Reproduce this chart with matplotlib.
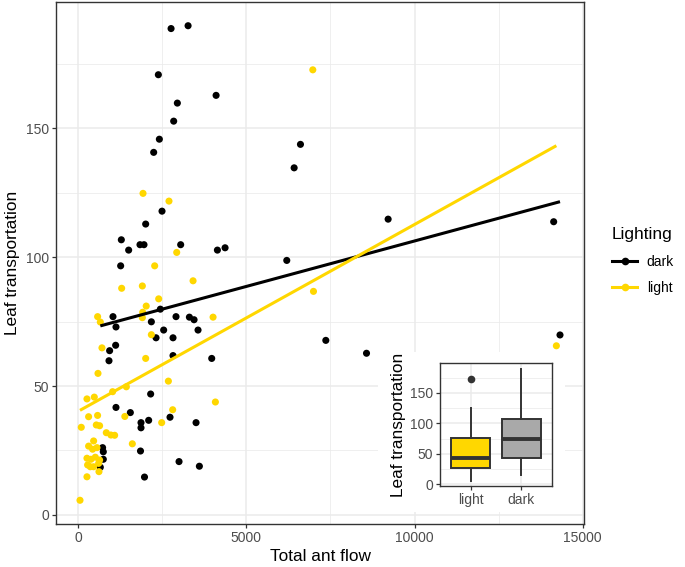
import numpy as np
import matplotlib
matplotlib.use("Agg")
import matplotlib.pyplot as plt
from matplotlib.lines import Line2D
from matplotlib.patches import Rectangle

plt.rcParams['font.family'] = ['Liberation Sans', 'DejaVu Sans']

# ---------------- data ----------------
dark_flow = [2759, 3265, 2381, 4098, 2946, 2837, 2411, 2242, 6607, 6419,
             2490, 2004, 1280, 1498, 1835, 1954, 3045, 4137, 4365, 1260,
             6200, 9214, 14137, 2440, 1032, 1121, 2173, 2906, 3304, 3443,
             3561, 2539, 2312, 2817, 1111, 932, 913, 2817, 3968, 7361,
             8571, 14325, 2152, 1121, 1548, 2728, 1865, 1865, 2093, 3502,
             723, 744, 1850, 744, 655, 2996, 3601, 1969]
dark_leaf = [188.6, 189.7, 170.7, 162.7, 159.7, 152.7, 145.7, 140.6, 143.7, 134.6,
             117.8, 112.8, 106.7, 102.7, 104.8, 104.8, 104.8, 102.7, 103.6, 96.6,
             98.7, 114.7, 113.7, 79.8, 76.9, 72.9, 74.9, 76.9, 76.7, 75.7,
             71.7, 71.7, 68.7, 68.7, 65.8, 63.7, 59.8, 61.8, 60.7, 67.7,
             62.7, 69.8, 46.9, 41.7, 39.7, 37.9, 35.8, 33.8, 36.7, 35.8,
             26.1, 24.5, 24.8, 21.6, 18.5, 20.7, 18.9, 14.7]

light_flow = [6974, 1925, 2697, 2927, 2272, 3413, 1290, 1905, 2391, 2020,
              1915, 1905, 6994, 4008, 575, 655, 2173, 704, 2004, 586,
              2679, 1021, 1429, 258, 476, 4077, 2807, 1384, 307, 574,
              2480, 89, 536, 634, 833, 970, 1081, 1607, 456, 307,
              556, 426, 258, 378, 506, 634, 605, 277, 357, 456,
              258, 51, 14217, 615]
light_leaf = [172.6, 124.7, 121.7, 101.8, 96.6, 90.8, 87.9, 88.8, 83.8, 81.0,
              78.6, 76.5, 86.7, 76.7, 76.9, 74.8, 69.9, 64.8, 60.7, 54.9,
              51.9, 47.8, 49.7, 45.0, 45.7, 43.8, 40.8, 38.2, 38.1, 38.6,
              35.8, 34.0, 34.9, 34.6, 31.9, 31.0, 30.9, 27.6, 28.7, 26.7,
              26.1, 25.5, 22.0, 21.6, 22.4, 21.3, 20.0, 19.4, 18.7, 18.7,
              14.8, 5.7, 65.6, 16.8]

groups = ["dark", "light"]
colors = {"dark": "#000000", "light": "#FFD700"}
box_order = ["light", "dark"]
box_fill = {"light": "#FFD700", "dark": "#A9A9A9"}

xticks = [0, 5000, 10000, 15000]
yticks = [0, 50, 100, 150]

data = {"dark": (np.array(dark_flow, float), np.array(dark_leaf, float)),
        "light": (np.array(light_flow, float), np.array(light_leaf, float))}

# ---------------- figure ----------------
W, H = 685, 567
fig = plt.figure(figsize=(W / 100, H / 100), dpi=100)

def fx(px):
    return px / W

def fy(py):
    return 1 - py / H

GRID = "#EBEBEB"
DARKLINE = "#333333"
TICKLAB = "#4D4D4D"

def style_axes(ax, tick_fs):
    for s in ax.spines.values():
        s.set_color(DARKLINE)
        s.set_linewidth(1.0)
    ax.tick_params(axis='both', which='major', length=3, width=0.9, color=DARKLINE,
                   labelcolor=TICKLAB, labelsize=tick_fs, pad=2)
    ax.tick_params(axis='both', which='minor', length=0)
    ax.grid(True, which='major', color=GRID, linewidth=1.1)
    ax.grid(True, which='minor', color=GRID, linewidth=0.55)
    ax.set_axisbelow(True)

# main axes
ax = fig.add_axes([fx(56), fy(524), fx(584) - fx(56), fy(2) - fy(524)])
style_axes(ax, 10)

allx = np.concatenate([data[g][0] for g in groups])
ally = np.concatenate([data[g][1] for g in groups])
rx = allx.max() - allx.min()
ry = ally.max() - ally.min()
ax.set_xlim(allx.min() - 0.05 * rx, allx.max() + 0.05 * rx)
ax.set_ylim(ally.min() - 0.05 * ry, ally.max() + 0.05 * ry)
ax.set_xticks(xticks)
ax.set_xticklabels([str(t) for t in xticks])
ax.set_yticks(yticks)
ax.set_yticklabels([str(t) for t in yticks])
ax.set_xticks([2500, 7500, 12500], minor=True)
ax.set_yticks([25, 75, 125, 175], minor=True)

for g in groups:
    x, y = data[g]
    ax.scatter(x, y, s=26, color=colors[g], edgecolors='none', zorder=3)
for g in groups:
    x, y = data[g]
    b, a = np.polyfit(x, y, 1)
    xs = np.array([x.min(), x.max()])
    ax.plot(xs, a + b * xs, color=colors[g], lw=2.2, zorder=4, solid_capstyle='butt')

ax.set_xlabel("Total ant flow", fontsize=12.4, color='black', labelpad=3)
ax.set_ylabel("Leaf transportation", fontsize=12.4, color='black', labelpad=4)

# legend
handles = [Line2D([0], [0], color=colors[g], lw=2.2, marker='o', markersize=5.5,
                  markeredgewidth=0) for g in groups]
leg = fig.legend(handles, groups, loc='upper left',
                 bbox_to_anchor=(fx(601), fy(216)), frameon=False,
                 title="Lighting", title_fontsize=12.4, fontsize=10,
                 handlelength=1.8, handletextpad=0.7, labelspacing=0.9,
                 borderpad=0.3)
leg._legend_box.align = "left"

# inset background
fig.patches.append(Rectangle((fx(378), fy(512)), fx(565) - fx(378), fy(352) - fy(512),
                             transform=fig.transFigure, facecolor='white',
                             edgecolor='none', zorder=5))

iax = fig.add_axes([fx(440), fy(486), fx(552) - fx(440), fy(363) - fy(486)])
iax.set_zorder(6)
style_axes(iax, 10)
box_data = [data[g][1] for g in box_order]
bp = iax.boxplot(box_data, positions=[1, 2], widths=0.75, patch_artist=True,
                 whis=1.5,
                 boxprops=dict(edgecolor=DARKLINE, linewidth=1.4),
                 medianprops=dict(color=DARKLINE, linewidth=2.8),
                 whiskerprops=dict(color=DARKLINE, linewidth=1.4),
                 capprops=dict(linewidth=0),
                 flierprops=dict(marker='o', markerfacecolor=DARKLINE,
                                 markeredgecolor='none', markersize=5.5))
for patch, g in zip(bp['boxes'], box_order):
    patch.set_facecolor(box_fill[g])
iax.set_xlim(0.4, 2.6)
iax.set_ylim(-3, 199)
iax.set_xticks([1, 2])
iax.set_xticklabels(box_order)
iax.set_yticks(yticks)
iax.set_yticklabels([str(t) for t in yticks])
iax.set_yticks([25, 75, 125, 175], minor=True)
iax.set_ylabel("Leaf transportation", fontsize=12.4, color='black', labelpad=3)

fig.savefig("out.png", dpi=100)
